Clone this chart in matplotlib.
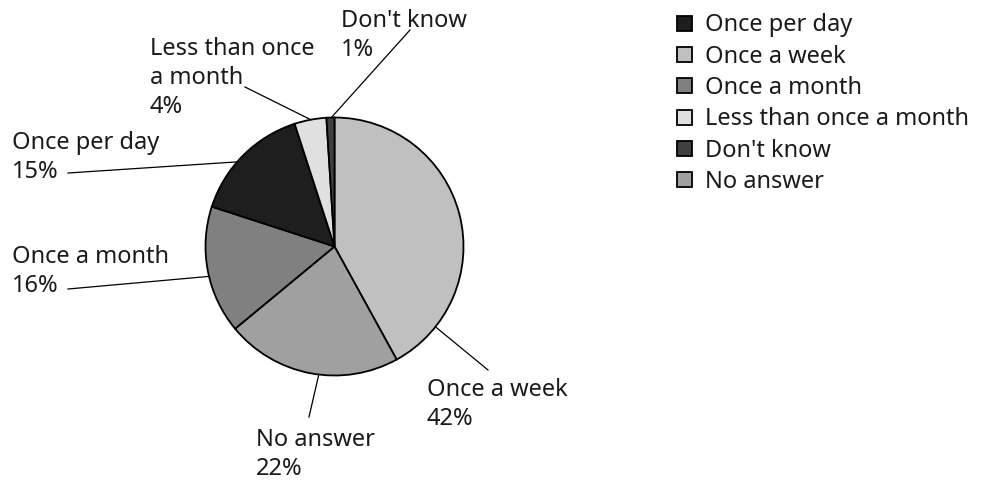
import numpy as np
import matplotlib.pyplot as plt

plt.rcParams['font.family'] = ['Noto Sans', 'DejaVu Sans']

# pie order (clockwise from 12 o'clock)
labels = ['Once a week', 'No answer', 'Once a month', 'Once per day',
          'Less than once a month', "Don't know"]
values = [42, 22, 16, 15, 4, 1]
colors = ['#c0c0c0', '#a0a0a0', '#808080', '#1e1e1e', '#e0e0e0', '#404040']

# legend order
legend_order = ['Once per day', 'Once a week', 'Once a month',
                'Less than once a month', "Don't know", 'No answer']

# callout text (label lines) per slice
callout_text = {
    'Once a week': 'Once a week',
    'No answer': 'No answer',
    'Once a month': 'Once a month',
    'Once per day': 'Once per day',
    'Less than once a month': 'Less than once\na month',
    "Don't know": "Don't know",
}

W, H = 982, 480
cx, cy, r = 334.5, 246.5, 129

# layout of callouts in pixel space: text top-left, leader end, anchor angle on rim (deg clockwise from top)
callout_pos = {
    'Once a week': ((427, 378), (488, 370), 128.5),
    'No answer': ((256, 428), (309, 417), 187.0),
    'Once a month': ((12, 245), (68, 289), 256.6),
    'Once per day': ((12, 131), (68, 173), 311.0),
    'Less than once a month': ((150, 37), (245, 87), 349.4),
    "Don't know": ((341, 9), (410, 30), 358.6),
}

fig = plt.figure(figsize=(W / 100, H / 100), dpi=100)
ax = fig.add_axes([0, 0, 1, 1])

def py(y):
    return H - y

wedges, _ = ax.pie(values, colors=colors, startangle=90, counterclock=False,
                   center=(cx, py(cy)), radius=r, frame=True,
                   wedgeprops=dict(edgecolor='black', linewidth=1.3))
ax.set_xlim(0, W)
ax.set_ylim(0, H)
ax.set_aspect('equal')
ax.axis('off')

for lab, val in zip(labels, values):
    (tx, ty), (lx, ly), ang = callout_pos[lab]
    a = np.deg2rad(ang)
    ex = cx + r * np.sin(a)
    ey = cy - r * np.cos(a)
    ax.plot([ex, lx], [py(ey), py(ly)], color='black', lw=0.9)
    ax.text(tx, py(ty), f'{callout_text[lab]}\n{val}%', ha='left', va='top',
            fontsize=17, color='#1a1a1a', linespacing=1.27)

handles = [wedges[labels.index(l)] for l in legend_order]
leg = ax.legend(handles, legend_order, loc='upper left',
                bbox_to_anchor=(668 / W, 1 - 4 / H), frameon=False,
                fontsize=17, handlelength=0.6, handleheight=0.6,
                handletextpad=0.55, labelspacing=0.31, borderaxespad=0)
for t in leg.get_texts():
    t.set_color('#1a1a1a')

fig.savefig('out.png', dpi=100)
